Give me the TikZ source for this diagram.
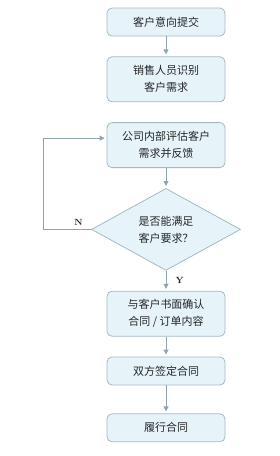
\documentclass[tikz,border=0pt]{standalone}
\usepackage{fontspec}
\newfontfamily\cjk{Noto Sans CJK SC}
\usepackage{tikz}
\usetikzlibrary{arrows.meta,positioning,shapes.geometric}
\definecolor{boxfill}{HTML}{E6F4FA}
\definecolor{boxline}{HTML}{A2BAC4}
\definecolor{arrline}{HTML}{8FA5AF}

\begin{document}
\begin{tikzpicture}[x=1pt,y=1pt,node distance=20pt, every node/.style={font=\cjk\fontsize{11}{17}\selectfont,text=black!85}, box/.style={draw=boxline,fill=boxfill,line width=0.8pt,rounded corners=5pt,align=center,minimum width=118pt,minimum height=28pt,inner sep=0pt}, tall/.style={box,minimum height=45pt}, check/.style={diamond,draw=boxline,fill=boxfill,line width=0.8pt,aspect=1.82,minimum width=149pt,minimum height=82pt,inner sep=0pt,align=center}, arr/.style={-{Triangle[length=5pt,width=5pt]},draw=arrline,line width=0.8pt,shorten >=2pt}, lab/.style={font=\bfseries\small}]
\useasboundingbox (0,0) rectangle (279,-456);
\node[box] (submit) at (166,-22) {客户意向提交};
\node[tall,below=of submit] (identify) {销售人员识别\\客户需求};
\node[tall,below=of identify] (evaluate) {公司内部评估客户\\需求并反馈};
\node[check,below=of evaluate] (meet) {是否能满足\\客户要求？};
\node[tall,below=of meet] (confirm) {与客户书面确认\\合同 / 订单内容};
\node[box,below=of confirm] (sign) {双方签定合同};
\node[box,below=28pt of sign] (perform) {履行合同};
\draw[arr] (submit)--(identify);
\draw[arr] (evaluate)--(meet);
\draw[arr] (meet)--(confirm);
\draw[arr] (confirm)--(sign);
\draw[arr] (sign)--(perform);
\draw[arr] (meet.west) -- ++(-48,0) |- ([yshift=7pt]evaluate.west);
\node[lab,above left=0pt and 5pt of meet.west] (no) {N};
\node[lab,below right=3pt and 6pt of meet.south] (yes) {Y};
\end{tikzpicture}
\end{document}
